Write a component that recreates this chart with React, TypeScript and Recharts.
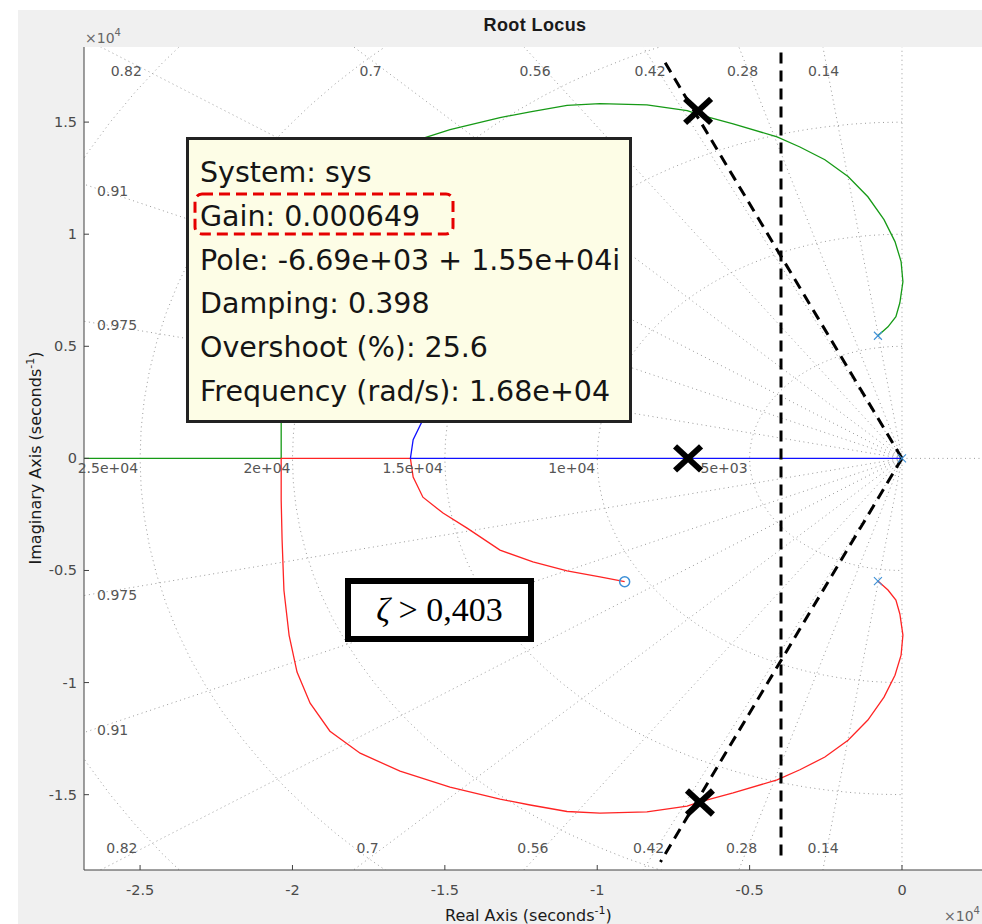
import React from 'react';
import { ComposedChart, Line, Scatter, XAxis, YAxis, ReferenceLine, ReferenceDot } from 'recharts';

// every value is in units of 1e4 s^-1 (the "x10^4" shown on both axes)
const X_TICKS = [-2.5, -2, -1.5, -1, -0.5, 0];
const Y_TICKS = [-1.5, -1, -0.5, 0, 0.5, 1, 1.5];
const X_DOMAIN = [-2.684, 0.2625];
const Y_DOMAIN = [-1.836, 1.835];

// sgrid: damping rays and natural frequency circles
const dampingRatios = [0.14, 0.28, 0.42, 0.56, 0.7, 0.82, 0.91, 0.975];
const naturalFreqs = [0.5, 1, 1.5, 2, 2.5, 3];
const freqLabels = ['5e+03', '1e+04', '1.5e+04', '2e+04', '2.5e+04', ''];

// open loop poles and zeros
const poleRe = [0, -0.079, -0.079];
const poleIm = [0, 0.547, -0.547];
const zeroRe = [-0.91, -0.91];
const zeroIm = [0.55, -0.55];

// branch leaving the pole at -0.079-0.547j, ending at the break-in point (lower half, green is its mirror)
const outerRe = [-0.079, -0.046, -0.02, -0.007, 0.003, -0.003, -0.023, -0.059, -0.112, -0.177, -0.253, -0.335, -0.41, -0.554, -0.663, -0.705, -0.837, -0.991, -1.099, -1.22, -1.319, -1.483, -1.647, -1.778, -1.877, -1.942, -1.985, -2.011, -2.028, -2.034, -2.037, -2.037];
const outerIm = [-0.547, -0.587, -0.632, -0.694, -0.788, -0.878, -0.967, -1.065, -1.167, -1.257, -1.332, -1.389, -1.434, -1.492, -1.532, -1.551, -1.577, -1.582, -1.575, -1.546, -1.52, -1.466, -1.395, -1.315, -1.217, -1.092, -0.953, -0.789, -0.588, -0.364, -0.186, 0];

// branch from the breakaway point to the zero at -0.91-0.55j (lower half, blue is its mirror)
const innerRe = [-1.613, -1.604, -1.572, -1.506, -1.427, -1.319, -1.211, -1.099, -0.991, -0.91];
const innerIm = [0, -0.083, -0.173, -0.244, -0.311, -0.409, -0.462, -0.502, -0.529, -0.55];

// hand drawn design marks
const markRe = [-0.669, -0.702, -0.663];
const markIm = [1.55, 0, -1.535];
const zetaDesign = 0.403;
const zetaLineTop = 1.777;
const zetaLineBottom = -1.8;
const sigmaDesign = -0.397;
const sigmaLineTop = 1.81;
const sigmaLineBottom = -1.778;

const SANS = '"DejaVu Sans", sans-serif';
const AXIS = '#404040';
const TICK_TEXT = '#4a4a4a';
const GRID = '#9a9a9a';
const GRID_TEXT = '#555';
const POLE = '#3c8fd6';

const pts = (xs: number[], ys: number[], sign = 1) => xs.map((x, i) => ({ x, y: sign * ys[i] }));

const greenBranch = [...pts(outerRe, outerIm, -1), { x: X_DOMAIN[0] - 0.2, y: 0 }];
const redBranch = [...pts(outerRe, outerIm), ...pts(innerRe, innerIm)];
const blueBranch = [{ x: 0, y: 0 }, ...pts(innerRe, innerIm, -1)];
const poles = pts(poleRe, poleIm);
const zeros = pts(zeroRe, zeroIm);

const arcAngles = Array.from({ length: 61 }, (_, i) => ((90 + i * 3) * Math.PI) / 180);
const circles = naturalFreqs.map((w) => arcAngles.map((a) => ({ x: w * Math.cos(a), y: w * Math.sin(a) })));
const rays = dampingRatios.flatMap((z) =>
  [1, -1].map((s) => [{ x: 0, y: 0 }, { x: -5 * z, y: s * 5 * Math.sqrt(1 - z * z) }])
);
const axisLines = [
  [{ x: 0, y: -2 }, { x: 0, y: 2 }],
  [{ x: 0, y: 0 }, { x: 0.5, y: 0 }],
];

// damping labels sit along the edge the ray leaves through
const LABEL_TOP = 1.772;
const LABEL_BOTTOM = -1.782;
const LABEL_LEFT = -2.641;
const dampingLabels = dampingRatios.flatMap((z) => {
  const k = Math.sqrt(1 - z * z) / z;
  const text = String(z);
  if (-Y_DOMAIN[1] / k > X_DOMAIN[0]) {
    return [
      { x: -LABEL_TOP / k, y: LABEL_TOP, text, anchor: 'middle', dx: -2, dy: 15 },
      { x: LABEL_BOTTOM / k, y: LABEL_BOTTOM, text, anchor: 'middle', dx: -2, dy: -5 },
    ];
  }
  return [
    { x: LABEL_LEFT, y: -LABEL_LEFT * k, text, anchor: 'start', dx: 0, dy: 7 },
    { x: LABEL_LEFT, y: LABEL_LEFT * k, text, anchor: 'start', dx: 0, dy: 7 },
  ];
});

const BottomTick = ({ x, y, payload }: any) => (
  <g>
    <line x1={x} x2={x} y1={y} y2={y - 5} stroke={AXIS} />
    <text x={x} y={y + 25} textAnchor="middle" fontFamily={SANS} fontSize={14.5} fill={TICK_TEXT}>
      {String(payload.value)}
    </text>
  </g>
);
const TopTick = ({ x, y }: any) => <line x1={x} x2={x} y1={y} y2={y + 5} stroke={AXIS} />;
const LeftTick = ({ x, y, payload }: any) => (
  <g>
    <line x1={x} x2={x + 5} y1={y} y2={y} stroke={AXIS} />
    <text x={x - 7} y={y + 5} textAnchor="end" fontFamily={SANS} fontSize={14.5} fill={TICK_TEXT}>
      {String(payload.value)}
    </text>
  </g>
);

const labelShape = (text: string, anchor: string, dx: number, dy: number) => (p: any) => (
  <text x={p.cx + dx} y={p.cy + dy} textAnchor={anchor as any} fontFamily={SANS} fontSize={14} fill={GRID_TEXT}>
    {text}
  </text>
);
const bigCross = (p: any) => (
  <g stroke="#000" strokeWidth={6}>
    <line x1={p.cx - 13} y1={p.cy - 12} x2={p.cx + 13} y2={p.cy + 12} />
    <line x1={p.cx - 13} y1={p.cy + 12} x2={p.cx + 13} y2={p.cy - 12} />
  </g>
);
const poleShape = (p: any) => (
  <g stroke={POLE} strokeWidth={1.1}>
    <line x1={p.cx - 4} y1={p.cy - 4} x2={p.cx + 4} y2={p.cy + 4} />
    <line x1={p.cx - 4} y1={p.cy + 4} x2={p.cx + 4} y2={p.cy - 4} />
  </g>
);
const zeroShape = (p: any) => <circle cx={p.cx} cy={p.cy} r={5} fill="none" stroke={POLE} strokeWidth={1.5} />;

const gridLine = (data: { x: number; y: number }[], key: string) => (
  <Line key={key} data={data} dataKey="y" stroke={GRID} strokeWidth={1} strokeDasharray="1 3.5" dot={false}
    activeDot={false} legendType="none" isAnimationActive={false} />
);
const branch = (data: { x: number; y: number }[], color: string) => (
  <Line data={data} dataKey="y" stroke={color} strokeWidth={1.3} dot={false} activeDot={false}
    legendType="none" isAnimationActive={false} />
);

const dash = { stroke: '#000', strokeWidth: 3, strokeDasharray: '11 7', ifOverflow: 'visible' as const };
const zk = Math.sqrt(1 - zetaDesign * zetaDesign) / zetaDesign;

export default function App() {
  return (
    <div style={{ position: 'absolute', left: 0, top: 0, width: 982, height: 924, overflow: 'hidden', background: '#fff' }}>
      <div style={{ position: 'absolute', left: 18, top: 10, right: 0, bottom: 0, background: '#f0f0f0' }} />
      <div style={{ position: 'absolute', left: 84, top: 47, width: 898, height: 823, background: '#fff' }} />
      <div style={{ position: 'absolute', left: 0, top: 0 }}>
        <ComposedChart width={982} height={924} margin={{ top: 47, right: 0, bottom: 0, left: 18 }}>
          <XAxis type="number" dataKey="x" domain={X_DOMAIN} ticks={X_TICKS} interval={0} allowDataOverflow
            height={54} tickSize={0} tickMargin={0} tickLine={false} tick={BottomTick} axisLine={{ stroke: AXIS }} />
          <XAxis xAxisId="top" orientation="top" type="number" dataKey="x" domain={X_DOMAIN} ticks={X_TICKS}
            interval={0} allowDataOverflow height={0} tickSize={0} tickMargin={0} tickLine={false} tick={TopTick}
            axisLine={{ stroke: AXIS }} />
          <YAxis type="number" dataKey="y" domain={Y_DOMAIN} ticks={Y_TICKS} interval={0} allowDataOverflow
            width={66} tickSize={0} tickMargin={0} tickLine={false} tick={LeftTick} axisLine={{ stroke: AXIS }} />

          {circles.map((c, i) => gridLine(c, 'c' + i))}
          {rays.map((r, i) => gridLine(r, 'r' + i))}
          {axisLines.map((r, i) => gridLine(r, 'a' + i))}

          {branch(greenBranch, '#169a16')}
          {branch(redBranch, '#ff2424')}
          {branch(blueBranch, '#1010ff')}

          <Scatter data={poles} dataKey="y" shape={poleShape} legendType="none" isAnimationActive={false} />
          <Scatter data={zeros} dataKey="y" shape={zeroShape} legendType="none" isAnimationActive={false} />

          {naturalFreqs.map((w, i) =>
            freqLabels[i] ? (
              <ReferenceDot key={'w' + i} x={-w} y={0} r={0} ifOverflow="visible"
                shape={labelShape(freqLabels[i], 'end', -2, 15)} />
            ) : null
          )}
          {dampingLabels.map((l, i) => (
            <ReferenceDot key={'z' + i} x={l.x} y={l.y} r={0} ifOverflow="visible"
              shape={labelShape(l.text, l.anchor, l.dx, l.dy)} />
          ))}

          <ReferenceLine segment={[{ x: 0, y: 0 }, { x: -zetaLineTop / zk, y: zetaLineTop }]} {...dash} />
          <ReferenceLine segment={[{ x: 0, y: 0 }, { x: zetaLineBottom / zk, y: zetaLineBottom }]} {...dash} />
          <ReferenceLine segment={[{ x: sigmaDesign, y: sigmaLineTop }, { x: sigmaDesign, y: sigmaLineBottom }]} {...dash} />
          {markRe.map((x, i) => (
            <ReferenceDot key={'m' + i} x={x} y={markIm[i]} r={0} ifOverflow="visible" shape={bigCross} />
          ))}
        </ComposedChart>
      </div>

      <svg width={982} height={924} style={{ position: 'absolute', left: 0, top: 0, pointerEvents: 'none' }}>
        <text x={535} y={31} textAnchor="middle" fontFamily='"Liberation Sans", Arial, sans-serif' fontWeight="bold"
          fontSize={18} letterSpacing={0.4} fill="#1a1a1a">Root Locus</text>
        <text x={85} y={43} fontFamily={SANS} fontSize={14} fill="#666">
          ×10<tspan fontSize={10} dy={-7}>4</tspan>
        </text>
        <text x={944} y={921} fontFamily={SANS} fontSize={14} fill="#666">
          ×10<tspan fontSize={10} dy={-7}>4</tspan>
        </text>
        <text x={445} y={921} fontFamily={SANS} fontSize={16} fill="#1a1a1a">
          Real Axis (seconds<tspan fontSize={11} dy={-7}>-1</tspan><tspan dy={7}>)</tspan>
        </text>
        <text x={41} y={458} transform="rotate(-90 41 458)" textAnchor="middle" fontFamily={SANS} fontSize={16} fill="#1a1a1a">
          Imaginary Axis (seconds<tspan fontSize={11} dy={-7}>-1</tspan><tspan dy={7}>)</tspan>
        </text>
      </svg>

      <div style={{ position: 'absolute', left: 186, top: 137, width: 446, height: 286, boxSizing: 'border-box',
        border: '3px solid #222', background: '#fdfde6', padding: '11px 0 0 11px', fontFamily: SANS, fontSize: 28.5,
        lineHeight: '43.8px', color: '#151515', whiteSpace: 'nowrap' }}>
        <div>System: sys</div>
        <div>Gain: 0.000649</div>
        <div>Pole: -6.69e+03 + 1.55e+04i</div>
        <div>Damping: 0.398</div>
        <div>Overshoot (%): 25.6</div>
        <div>Frequency (rad/s): 1.68e+04</div>
      </div>
      <svg width={264} height={46} style={{ position: 'absolute', left: 193, top: 192 }}>
        <rect x={2} y={2} width={258} height={40} rx={7} fill="none" stroke="#e60000" strokeWidth={3} strokeDasharray="11 6" />
      </svg>

      <div style={{ position: 'absolute', left: 345, top: 578, width: 189, height: 64, boxSizing: 'border-box',
        border: '6px solid #000', background: '#fff', textAlign: 'center', fontFamily: '"Liberation Serif", serif',
        fontSize: 34, lineHeight: '52px', color: '#000' }}>
        <i>ζ</i> &gt; 0,403
      </div>
    </div>
  );
}
